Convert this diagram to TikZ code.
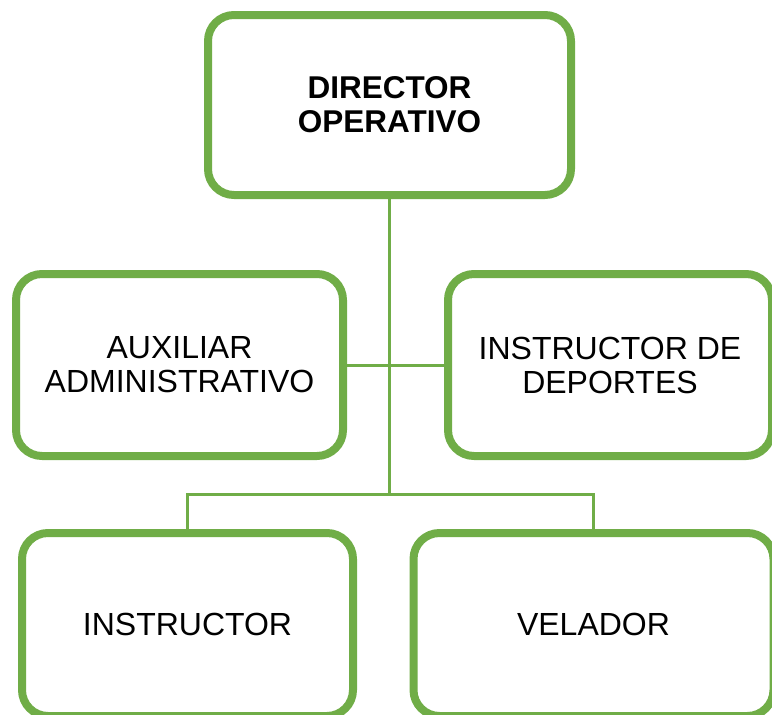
\documentclass[tikz,border=0pt]{standalone}
\usepackage{fontspec}
\setmainfont{Liberation Sans}
\definecolor{orggreen}{HTML}{70AD47}
\tikzset{
  puesto/.style={draw=orggreen,line width=8pt,rounded corners=26pt,fill=white,
    align=center,font=\fontsize{32}{34}\selectfont,inner sep=0pt},
  enlace/.style={draw=orggreen,line width=3pt}
}
\begin{document}
\begin{tikzpicture}[x=1pt,y=-1pt]
  \useasboundingbox (0,0) rectangle (772,715);
  \node[puesto,minimum width=363pt,minimum height=180pt,font=\fontsize{31.5}{34}\selectfont\bfseries]
    (dir) at (389.5,105) {DIRECTOR\\OPERATIVO};
  \node[puesto,minimum width=327pt,minimum height=182pt] (aux) at (179.5,365) {AUXILIAR\\ADMINISTRATIVO};
  \node[puesto,minimum width=324pt,minimum height=182pt] (dep) at (610,365) {INSTRUCTOR DE\\DEPORTES};
  \node[puesto,minimum width=360pt,minimum height=183pt] (vel) at (593.5,624.5) {VELADOR};
  \node[puesto,minimum width=331pt,minimum height=183pt] (ins) at (187.5,624.5) {INSTRUCTOR};
  \coordinate (bus) at (389.5,494);
  \draw[enlace] (dir.south) -- (bus);
  \draw[enlace] (aux.east) -- (dep.west);
  \draw[enlace] (ins.north) |- (bus) -| (vel.north);
\end{tikzpicture}
\end{document}
